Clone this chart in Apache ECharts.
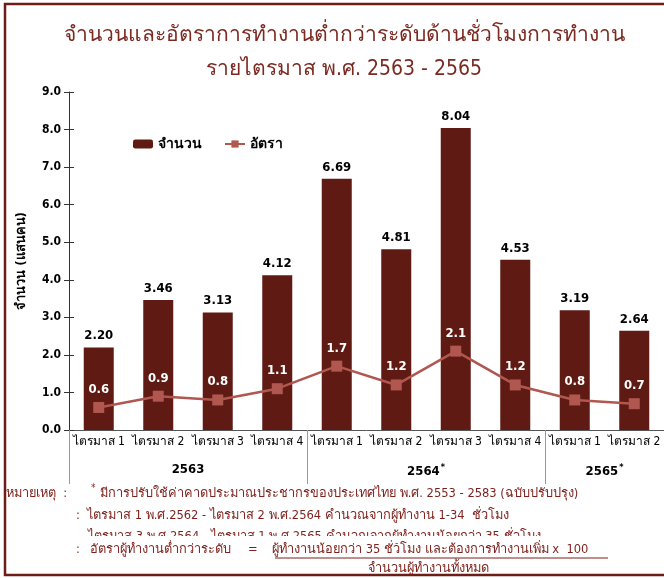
<!DOCTYPE html>
<html>
<head>
<meta charset="utf-8">
<script src="https://cdn.jsdelivr.net/npm/echarts@6/dist/echarts.min.js"></script>
<style>
  html, body { margin: 0; padding: 0; background: #fff; }
  #chart { width: 664px; height: 578px; }
</style>
</head>
<body>
<div id="chart"></div>
<script>
const quarters = ['ไตรมาส 1', 'ไตรมาส 2', 'ไตรมาส 3', 'ไตรมาส 4', 'ไตรมาส 1', 'ไตรมาส 2', 'ไตรมาส 3', 'ไตรมาส 4', 'ไตรมาส 1', 'ไตรมาส 2']
const counts = [2.20, 3.46, 3.13, 4.12, 6.69, 4.81, 8.04, 4.53, 3.19, 2.64]
const rates = [0.6, 0.9, 0.8, 1.1, 1.7, 1.2, 2.1, 1.2, 0.8, 0.7]
const years = ['2563', '2564', '2565']
const yearCenters = [2, 6, 9]
const yearBounds = [0, 4, 8, 10]

const FONT = 'Tahoma, "DejaVu Sans Condensed", "DejaVu Sans", sans-serif'
const MAROON = '#5f1a13'
const RATE = '#b0574f'
const NOTE = '#7d1f1a'
const NOTE_FONT = '12.8px ' + FONT

function note(x, y, text, style, z) {
  return {
    type: 'text', z: z || 11, silent: true,
    style: Object.assign({ x: x, y: y, text: text, fill: NOTE, font: NOTE_FONT, verticalAlign: 'middle' }, style || {}),
  }
}

const chart = echarts.init(document.getElementById('chart'), undefined, { renderer: 'canvas' })

chart.setOption({
  animation: false,
  textStyle: { fontFamily: FONT },
  title: {
    text: 'จำนวนและอัตราการทำงานต่ำกว่าระดับด้านชั่วโมงการทำงาน\nรายไตรมาส พ.ศ. 2563 - 2565',
    left: 339,
    top: 14,
    textAlign: 'center',
    textStyle: { color: '#7b2a22', fontSize: 21, fontWeight: 'normal', lineHeight: 34, fontFamily: FONT },
  },
  legend: {
    left: 128,
    top: 132,
    itemWidth: 20,
    itemHeight: 9,
    itemGap: 22,
    textStyle: { color: '#000', fontSize: 14, fontWeight: 'bold', fontFamily: FONT },
    data: ['จำนวน', 'อัตรา'],
  },
  grid: { left: 69, top: 92, width: 597, height: 338 },
  xAxis: [
    {
      type: 'category',
      data: quarters,
      axisLine: { lineStyle: { color: '#555' } },
      axisTick: { length: 25, lineStyle: { color: '#999' } },
      axisLabel: { interval: 0, color: '#000', fontSize: 12, margin: 6, fontFamily: FONT },
    },
    {
      type: 'value',
      position: 'bottom',
      min: 0,
      max: 10,
      axisLine: { show: false },
      splitLine: { show: false },
      axisTick: { show: true, customValues: yearBounds, length: 54, lineStyle: { color: '#999' } },
      axisLabel: {
        customValues: yearCenters,
        margin: 33,
        formatter: v => {
          const i = yearCenters.indexOf(v)
          return i > 0 ? '{y|' + years[i] + '}{s|*}' : '{y|' + years[i] + '}'
        },
        rich: {
          y: { fontSize: 13, fontWeight: 'bold', color: '#000', fontFamily: FONT },
          s: { fontSize: 9, fontWeight: 'bold', color: '#000', padding: [0, 0, 9, 1], fontFamily: FONT },
        },
      },
    },
  ],
  yAxis: [
    {
      type: 'value',
      min: 0,
      max: 9,
      interval: 1,
      name: 'จำนวน (แสนคน)',
      nameLocation: 'middle',
      nameGap: 41,
      nameTextStyle: { color: '#000', fontSize: 13, fontWeight: 'bold', fontFamily: FONT },
      axisLine: { show: true, lineStyle: { color: '#333' } },
      axisTick: { show: true, length: 5, lineStyle: { color: '#333' } },
      splitLine: { show: false },
      axisLabel: { color: '#000', fontSize: 12, fontWeight: 'bold', margin: 8, formatter: v => v.toFixed(1), fontFamily: FONT },
    },
    {
      type: 'value',
      position: 'left',
      min: 0,
      max: 9,
      interval: 1,
      axisLine: { show: false },
      axisTick: { show: true, inside: true, length: 5, lineStyle: { color: '#333' } },
      splitLine: { show: false },
      axisLabel: { show: false },
    },
  ],
  series: [
    {
      name: 'จำนวน',
      type: 'bar',
      data: counts,
      barWidth: 30,
      itemStyle: { color: MAROON },
      label: {
        show: true,
        position: 'top',
        distance: 5,
        color: '#000',
        fontSize: 13,
        fontWeight: 'bold',
        formatter: p => p.value.toFixed(2),
        fontFamily: FONT,
      },
    },
    {
      name: 'อัตรา',
      type: 'line',
      data: rates,
      symbol: 'rect',
      symbolSize: 11,
      lineStyle: { color: RATE, width: 2.5 },
      itemStyle: { color: RATE },
      label: {
        show: true,
        position: 'top',
        distance: 6,
        color: '#fff',
        fontSize: 13,
        fontWeight: 'bold',
        formatter: p => p.value.toFixed(1),
        fontFamily: FONT,
      },
      z: 3,
    },
  ],
  graphic: [
    {
      type: 'rect',
      shape: { x: 5, y: 4, width: 700, height: 571 },
      style: { fill: 'none', stroke: '#6e1c16', lineWidth: 2.5 },
      silent: true,
    },
    note(6, 494, 'หมายเหตุ  :'),
    note(91, 488, '*', { font: '10px ' + FONT }),
    note(100, 494, 'มีการปรับใช้ค่าคาดประมาณประชากรของประเทศไทย พ.ศ. 2553 - 2583 (ฉบับปรับปรุง)'),
    note(76, 516, ':  ไตรมาส 1 พ.ศ.2562 - ไตรมาส 2 พ.ศ.2564 คำนวณจากผู้ทำงาน 1-34  ชั่วโมง'),
    note(88, 537, 'ไตรมาส 3 พ.ศ.2564 - ไตรมาส 1 พ.ศ.2565 คำนวณจากผู้ทำงานน้อยกว่า 35 ชั่วโมง', null, 9),
    {
      type: 'rect', z: 10, silent: true,
      shape: { x: 60, y: 536, width: 560, height: 7 },
      style: { fill: '#fff' },
    },
    note(76, 550, ':'),
    note(90, 550, 'อัตราผู้ทำงานต่ำกว่าระดับ'),
    note(248, 550, '='),
    note(272, 550, 'ผู้ทำงานน้อยกว่า 35 ชั่วโมง และต้องการทำงานเพิ่ม x  100'),
    {
      type: 'line', z: 11, silent: true,
      shape: { x1: 275, y1: 558, x2: 608, y2: 558 },
      style: { stroke: NOTE, lineWidth: 1 },
    },
    note(428, 569, 'จำนวนผู้ทำงานทั้งหมด', { align: 'center' }),
  ],
})
</script>
</body>
</html>
